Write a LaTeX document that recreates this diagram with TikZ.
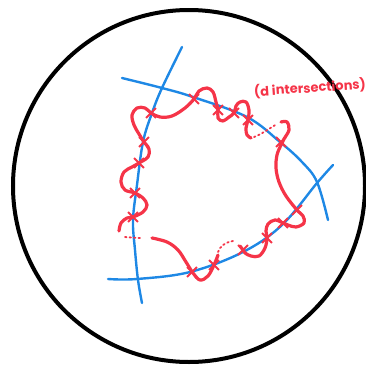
\documentclass[tikz,border=0pt]{standalone}
\usepackage{fontspec}
\newfontfamily\handfont{Poppins}
\usetikzlibrary{shapes.misc}
\definecolor{inkblue}{RGB}{30,136,229}
\definecolor{inkred}{RGB}{245,52,72}
\tikzset{
  bluecurve/.style={inkblue,line width=2.4pt,line cap=round},
  redcurve/.style={inkred,line width=3.2pt,line cap=round,line join=round},
  reddots/.style={inkred,line width=1.8pt,line cap=round,dash pattern=on 1.5pt off 3pt},
  xm/.style={cross out,draw=inkred,line width=1.8pt,minimum size=8pt,inner sep=0pt},
}
\begin{document}
\begin{tikzpicture}[x=1pt,y=-1pt]
\useasboundingbox (0,0) rectangle (365,367);
% outer circle
\draw[black,line width=4pt] (189,186) circle (176);
% blue curves
\draw[bluecurve] plot[smooth,tension=0.6] coordinates {(182,47) (162,88) (152,113) (143,142) (137,185) (133,220) (135,250) (138,280) (142,303)};
\draw[bluecurve] plot[smooth,tension=0.6] coordinates {(122,78) (162,88) (193,97) (247,117) (280,142) (302,162) (317,182) (328,220)};
\draw[bluecurve] plot[smooth,tension=0.6] coordinates {(108,279) (137,279) (190,272) (243,252) (282,225) (317,183) (333,165)};
% red wiggly loop
\draw[redcurve] plot[smooth,tension=0.6] coordinates {(119,231) (121,223) (127,218) (133,217) (143,212) (147,205) (143,198) (135,193) (125,190) (121,182) (124,172) (132,167) (139,163) (148,157) (149,149) (144,142) (139,134) (134,125) (132,115) (137,108) (145,108) (151,113) (160,117) (172,116) (185,108) (194,99) (199,91) (207,88) (213,92) (216,102) (218,110) (218,118) (223,121) (229,117) (234,113) (236,106) (240,102) (246,102) (249,110) (248,120) (246,128) (247,135) (251,138)};
\draw[reddots] (254,137) .. controls (262,134) and (270,128) .. (277,124);
\draw[redcurve] plot[smooth,tension=0.6] coordinates {(281,122) (287,122) (289,130) (284,139) (281,145) (277,155) (276,168) (279,182) (286,196) (297,210) (303,216) (304,223) (296,227) (288,225) (283,223) (275,220) (268,224) (266,231) (267,238) (265,248) (259,256) (251,256) (245,253) (243,250) (240,246)};
\draw[reddots] (233,241) .. controls (226,242) and (220,246) .. (218,252);
\draw[redcurve] plot[smooth,tension=0.6] coordinates {(218,255) (214,265) (208,276) (200,280) (193,273) (186,262) (178,250) (167,242) (152,238)};
\draw[reddots] (140,238) -- (124,237);
% intersection marks
\foreach \p [count=\i] in {(133,217),(135,193),(139,163),(144,142),(151,113),(194,99),(218,110),(234,113),(248,120),(281,142),(297,210),(283,223),(267,238),(243,250),(214,265),(192,272)}
  \node[xm] (x\i) at \p {};
% label
\node[inkred,rotate=4,font=\handfont\bfseries\fontsize{13}{15}\selectfont] (lbl) at (310,88) {(d intersections)};
\end{tikzpicture}
\end{document}
